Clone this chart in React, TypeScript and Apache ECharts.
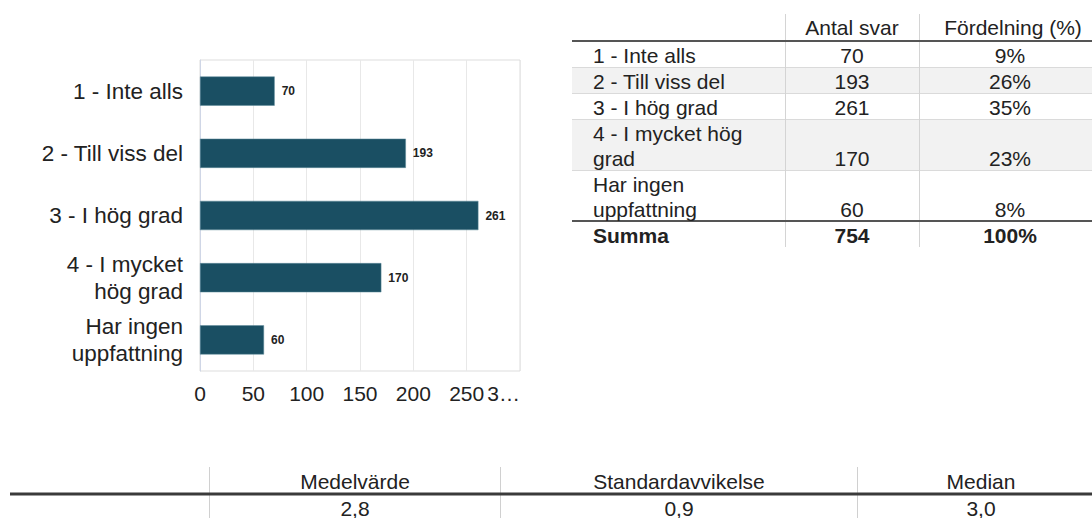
import React, { useEffect, useRef } from "react";
import * as echarts from "echarts";

const categories = ["1 - Inte alls", "2 - Till viss del", "3 - I hög grad", "4 - I mycket\nhög grad", "Har ingen\nuppfattning"];
const tableLabels = ["1 - Inte alls", "2 - Till viss del", "3 - I hög grad", "4 - I mycket hög\ngrad", "Har ingen\nuppfattning"];
const counts = [70, 193, 261, 170, 60];
const percents = ["9%", "26%", "35%", "23%", "8%"];
const tableHeaders = ["Antal svar", "Fördelning (%)"];
const sumLabel = "Summa";
const sumCount = "754";
const sumPercent = "100%";
const statHeaders = ["Medelvärde", "Standardavvikelse", "Median"];
const statValues = ["2,8", "0,9", "3,0"];

const FONT = "Liberation Sans, Arial, Helvetica, sans-serif";
const TXT = "#222";

function buildGraphics() {
  const g: any[] = [];
  const tl = 572, tr = 1092;
  const rowTops = [41, 67, 93, 119, 170, 221];
  const rowBottoms = [67, 93, 119, 170, 221, 247];
  const colLabelX = 593, col2X = 852, col3X = 1010;
  const fs = 21;
  tableLabels.forEach((_, i) => {
    if (i % 2 === 1) {
      g.push({ type: "rect", shape: { x: tl, y: rowTops[i], width: tr - tl, height: rowBottoms[i] - rowTops[i] }, style: { fill: "#f2f2f2" }, silent: true });
    }
  });
  for (let i = 1; i < tableLabels.length; i++) {
    g.push({ type: "line", shape: { x1: tl, y1: rowTops[i] + 0.5, x2: tr, y2: rowTops[i] + 0.5 }, style: { stroke: "#dadada", lineWidth: 1 }, silent: true });
  }
  [785.5, 919.5].forEach((x) => {
    g.push({ type: "line", shape: { x1: x, y1: 14, x2: x, y2: 247 }, style: { stroke: "#d4d4d4", lineWidth: 1 }, silent: true });
  });
  [41, 221].forEach((y) => {
    g.push({ type: "line", shape: { x1: tl, y1: y, x2: tr, y2: y }, style: { stroke: "#555", lineWidth: 2 }, silent: true });
  });
  g.push({ type: "text", x: col2X, y: 27, style: { text: tableHeaders[0], font: `${fs}px ${FONT}`, fill: TXT, align: "center", verticalAlign: "middle" } });
  g.push({ type: "text", x: col3X + 3, y: 27, style: { text: tableHeaders[1], font: `${fs}px ${FONT}`, fill: TXT, align: "center", verticalAlign: "middle" } });
  tableLabels.forEach((lab, i) => {
    const lines = lab.split("\n");
    const top = rowTops[i];
    lines.forEach((ln, j) => {
      g.push({ type: "text", x: colLabelX, y: top + 14 + j * 25.5, style: { text: ln, font: `${fs}px ${FONT}`, fill: TXT, align: "left", verticalAlign: "middle" } });
    });
    const vy = top + 14 + (lines.length - 1) * 25.5;
    g.push({ type: "text", x: col2X, y: vy, style: { text: String(counts[i]), font: `${fs}px ${FONT}`, fill: TXT, align: "center", verticalAlign: "middle" } });
    g.push({ type: "text", x: col3X, y: vy, style: { text: percents[i], font: `${fs}px ${FONT}`, fill: TXT, align: "center", verticalAlign: "middle" } });
  });
  const sy = 235;
  g.push({ type: "text", x: colLabelX, y: sy, style: { text: sumLabel, font: `bold ${fs}px ${FONT}`, fill: TXT, align: "left", verticalAlign: "middle" } });
  g.push({ type: "text", x: col2X, y: sy, style: { text: sumCount, font: `bold ${fs}px ${FONT}`, fill: TXT, align: "center", verticalAlign: "middle" } });
  g.push({ type: "text", x: col3X, y: sy, style: { text: sumPercent, font: `bold ${fs}px ${FONT}`, fill: TXT, align: "center", verticalAlign: "middle" } });

  const sepX = [209.5, 500.5, 857.5];
  sepX.forEach((x) => {
    g.push({ type: "line", shape: { x1: x, y1: 467, x2: x, y2: 518 }, style: { stroke: "#d0d0d0", lineWidth: 1 }, silent: true });
  });
  g.push({ type: "line", shape: { x1: 10, y1: 494, x2: 1092, y2: 494 }, style: { stroke: "#3a3a3a", lineWidth: 3 }, silent: true });
  const centers = [355, 679, 981];
  statHeaders.forEach((h, i) => {
    g.push({ type: "text", x: centers[i], y: 481, style: { text: h, font: `21px ${FONT}`, fill: TXT, align: "center", verticalAlign: "middle" } });
    g.push({ type: "text", x: centers[i], y: 508, style: { text: statValues[i], font: `21px ${FONT}`, fill: TXT, align: "center", verticalAlign: "middle" } });
  });
  return g;
}

export default function App() {
  const ref = useRef<HTMLDivElement>(null);
  useEffect(() => {
    document.body.style.margin = "0";
    if (!ref.current) return;
    const chart = echarts.init(ref.current, null, { renderer: "svg" });
    chart.setOption({
      animation: false,
      backgroundColor: "#fff",
      textStyle: { fontFamily: FONT },
      grid: { left: 200, top: 60, width: 320, height: 311, show: true, borderColor: "#dddddd", borderWidth: 1, containLabel: false },
      xAxis: {
        type: "value",
        min: 0,
        max: 300,
        interval: 50,
        axisLine: { show: false },
        axisTick: { show: false },
        splitLine: { show: true, lineStyle: { color: "#e8e8e8", width: 1 } },
        axisLabel: {
          fontSize: 21,
          color: TXT,
          fontFamily: FONT,
          margin: 12,
          alignMaxLabel: "right",
          formatter: (v: number) => (v === 300 ? "3…" : String(v)),
        },
      },
      yAxis: {
        type: "category",
        data: categories,
        inverse: true,
        axisLine: { show: true, lineStyle: { color: "#cfd6e6" } },
        axisTick: { show: false },
        axisLabel: { fontSize: 22.5, color: TXT, fontFamily: FONT, margin: 17, lineHeight: 27, align: "right" },
      },
      series: [
        {
          type: "bar",
          data: counts,
          barCategoryGap: "53%",
          itemStyle: { color: "#1a4f63", borderColor: "#5f8a9a", borderWidth: 0.5 },
          label: { show: true, position: "right", distance: 7, fontSize: 12, fontWeight: "bold", color: TXT, fontFamily: FONT },
        },
      ],
      graphic: buildGraphics(),
    });
    return () => chart.dispose();
  }, []);
  return <div ref={ref} style={{ width: 1092, height: 518 }} />;
}
